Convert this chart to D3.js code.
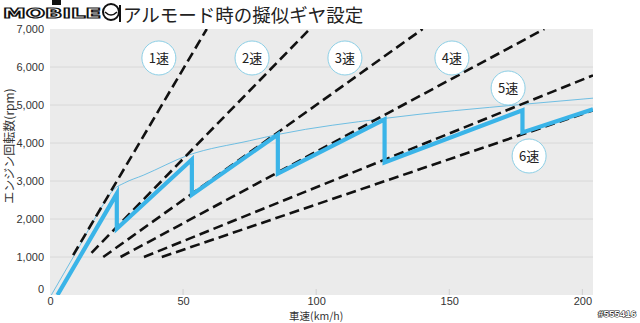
<!DOCTYPE html>
<html>
<head>
<meta charset="utf-8">
<script src="https://cdn.jsdelivr.net/npm/d3@7/dist/d3.min.js"></script>
<style>
  html, body { margin: 0; padding: 0; background: #fff; }
  svg { display: block; }
  .tick text { font-family: "Liberation Sans", Arial, sans-serif; font-size: 11px; fill: #333; }
  .jp { font-family: "Noto Sans CJK JP", sans-serif; }
</style>
</head>
<body>
<svg id="chart" width="640" height="323"></svg>
<script>
// Axis ticks
const speedTicks = [0, 50, 100, 150, 200];
const rpmTicks = [0, 1000, 2000, 3000, 4000, 5000, 6000, 7000];

// Gear names
const gearNames = ["1速", "2速", "3速", "4速", "5速", "6速"];

// Each gear line: start and end point as [speed km/h, rpm]
const gearStart = [[8.7, 1050], [15.6, 1110], [20, 1000], [26.5, 1000], [35.3, 1000], [42, 1000]];
const gearEnd = [[58.9, 7000], [97.6, 7000], [140, 7000], [185.7, 7000], [204, 5780], [204, 4860]];

// Simulated-gear shift pattern (speed, rpm)
const shiftSpeed = [2.8, 25.1, 25.1, 53.3, 53.3, 85.6, 85.6, 125.7, 125.7, 177.5, 177.5, 204];
const shiftRpm   = [0, 2668, 1743, 3566, 2641, 4226, 3196, 4622, 3487, 4860, 4279, 4890];

// Reference engine-speed curve (speed, rpm)
const curveSpeed = [0.5, 10, 20, 24, 28, 35, 52, 75, 86, 126, 178, 204];
const curveRpm   = [0, 1150, 2380, 2780, 2950, 3150, 3680, 4060, 4230, 4650, 5020, 5180];

// Gear label anchors (speed, rpm)
const labelSpeed = [40.9, 75.9, 110.8, 151.0, 172.1, 180.0];
const labelRpm   = [6237, 6237, 6237, 6237, 5447, 3658];

const svg = d3.select("#chart");
const plotL = 50, plotR = 593, plotT = 29, plotB = 295;

const x = d3.scaleLinear().domain([0, 204]).range([plotL, plotR]);
const y = d3.scaleLinear().domain([0, 7000]).range([plotB, plotT]);

// Plot background
svg.append("rect")
  .attr("x", plotL).attr("y", plotT)
  .attr("width", plotR - plotL).attr("height", plotB - plotT)
  .attr("fill", "#ebebeb");

svg.append("defs").append("clipPath").attr("id", "plot")
  .append("rect")
  .attr("x", plotL).attr("y", plotT)
  .attr("width", plotR - plotL).attr("height", plotB - plotT);

// Horizontal gridlines
svg.append("g").selectAll("line")
  .data(rpmTicks.filter(d => d > 0 && d < 7000))
  .join("line")
  .attr("x1", plotL).attr("x2", plotR)
  .attr("y1", d => y(d)).attr("y2", d => y(d))
  .attr("stroke", "#d8d8d8").attr("stroke-width", 1);

// Small inner ticks on the speed axis
svg.append("g").selectAll("line")
  .data(speedTicks.filter(d => d > 0))
  .join("line")
  .attr("x1", d => x(d)).attr("x2", d => x(d))
  .attr("y1", plotB - 6).attr("y2", plotB)
  .attr("stroke", "#d0d0d0").attr("stroke-width", 1);

// Axes (labels only)
const xAxis = svg.append("g")
  .attr("transform", `translate(0,${plotB})`)
  .call(d3.axisBottom(x).tickValues(speedTicks).tickSize(0).tickPadding(2.5).tickFormat(d3.format("d")));
xAxis.select(".domain").remove();

const yAxis = svg.append("g")
  .attr("transform", `translate(${plotL},0)`)
  .call(d3.axisLeft(y).tickValues(rpmTicks).tickSize(0).tickPadding(6).tickFormat(d3.format(",")));
yAxis.select(".domain").remove();
yAxis.selectAll(".tick").filter(d => d === 0).select("text").attr("dy", "-0.25em");

const plot = svg.append("g").attr("clip-path", "url(#plot)");

// Reference curve (thin)
const smooth = d3.line().x(d => x(d[0])).y(d => y(d[1])).curve(d3.curveMonotoneX);
const curvePts = curveSpeed.map((s, i) => [s, curveRpm[i]]);
plot.append("path")
  .datum(curvePts)
  .attr("d", smooth)
  .attr("fill", "none")
  .attr("stroke", "#4fb3e0")
  .attr("stroke-width", 0.8);

// Gear ratio lines (dashed)
const straight = d3.line().x(d => x(d[0])).y(d => y(d[1]));
plot.append("g").selectAll("path")
  .data(gearStart.map((s, i) => [s, gearEnd[i]]))
  .join("path")
  .attr("d", d => straight(d))
  .attr("fill", "none")
  .attr("stroke", "#111")
  .attr("stroke-width", 2.6)
  .attr("stroke-dasharray", "10,5");

// Shift pattern (thick blue)
const shiftPts = shiftSpeed.map((s, i) => [s, shiftRpm[i]]);
plot.append("path")
  .datum(shiftPts)
  .attr("d", straight)
  .attr("fill", "none")
  .attr("stroke", "#3ab4e8")
  .attr("stroke-width", 4.2)
  .attr("stroke-linejoin", "miter");

// Gear labels
const labels = svg.append("g").selectAll("g")
  .data(gearNames.map((n, i) => ({ n, s: labelSpeed[i], r: labelRpm[i] })))
  .join("g")
  .attr("transform", d => `translate(${x(d.s)},${y(d.r)})`);
labels.append("circle")
  .attr("r", 17)
  .attr("fill", "#fff")
  .attr("stroke", "#8ccfe6")
  .attr("stroke-width", 1);
labels.append("text")
  .attr("class", "jp")
  .attr("text-anchor", "middle")
  .attr("dy", "0.36em")
  .attr("font-size", 13)
  .attr("fill", "#222")
  .text(d => d.n);

// Axis titles
svg.append("text")
  .attr("class", "jp")
  .attr("transform", `translate(14,146) rotate(-90)`)
  .attr("text-anchor", "middle")
  .attr("font-size", 12)
  .attr("fill", "#333")
  .text("エンジン回転数(rpm)");

svg.append("text")
  .attr("class", "jp")
  .attr("x", x(100)).attr("y", 320)
  .attr("text-anchor", "middle")
  .attr("font-size", 10.5)
  .attr("fill", "#333")
  .text("車速(km/h)");

// Title
svg.append("text")
  .attr("class", "jp")
  .attr("x", 123).attr("y", 22)
  .attr("font-size", 18.5)
  .attr("fill", "#222")
  .text("アルモード時の擬似ギヤ設定");

// Site logo
const logo = svg.append("g");
logo.append("rect").attr("x", 52).attr("y", 0).attr("width", 9).attr("height", 5).attr("fill", "#111");
logo.append("text")
  .attr("x", 3).attr("y", 18)
  .attr("font-family", "DejaVu Sans, sans-serif")
  .attr("font-weight", "bold")
  .attr("font-size", 14)
  .attr("textLength", 98)
  .attr("lengthAdjust", "spacingAndGlyphs")
  .attr("fill", "#fff")
  .attr("stroke", "#111")
  .attr("stroke-width", 1.2)
  .text("MOBILE");
logo.append("circle").attr("cx", 111).attr("cy", 12).attr("r", 8)
  .attr("fill", "#fff").attr("stroke", "#111").attr("stroke-width", 2);
logo.append("path").attr("d", "M105,12 Q111,18 117,12").attr("fill", "none").attr("stroke", "#111").attr("stroke-width", 1.5);
logo.append("line").attr("x1", 120).attr("y1", 5).attr("x2", 120).attr("y2", 22).attr("stroke", "#111").attr("stroke-width", 2);

// Watermark
svg.append("text")
  .attr("x", 598).attr("y", 317)
  .attr("font-family", "Liberation Sans, Arial, sans-serif")
  .attr("font-weight", "bold")
  .attr("font-size", 9.8)
  .attr("fill", "#fff")
  .attr("stroke", "#111")
  .attr("stroke-width", 1)
  .attr("paint-order", "stroke")
  .text("#555416");
</script>
</body>
</html>
